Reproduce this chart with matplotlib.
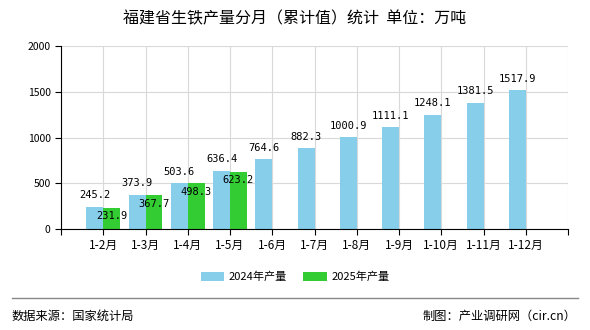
import numpy as np
import matplotlib
matplotlib.use("Agg")
from matplotlib import pyplot as plt

plt.rcParams['font.family'] = ['Noto Sans CJK SC', 'DejaVu Sans']

月份 = ['1-2月', '1-3月', '1-4月', '1-5月', '1-6月', '1-7月', '1-8月', '1-9月', '1-10月', '1-11月', '1-12月']
产量2024 = [245.2, 373.9, 503.6, 636.4, 764.6, 882.3, 1000.9, 1111.1, 1248.1, 1381.5, 1517.9]
产量2025 = [231.9, 367.7, 498.3, 623.2]

fig = plt.figure(figsize=(5.9, 3.3), dpi=100)
ax = fig.add_axes([61/590, 1-229/330, 507/590, 183/330])

x = np.arange(len(月份))
w = 0.4
b1 = ax.bar(x - w/2, 产量2024, w, color='#87CEEB', label='2024年产量', zorder=2)
b2 = ax.bar(x[:len(产量2025)] + w/2, 产量2025, w, color='#33CC33', label='2025年产量', zorder=2)

for xi, v in zip(x, 产量2024):
    ax.text(xi - w/2, v + 70, f'{v:.1f}', ha='center', va='bottom', fontsize=7.5,
            family=['DejaVu Sans Mono'], zorder=3)
for xi, v in zip(x, 产量2025):
    ax.text(xi + w/2, v - 90, f'{v:.1f}', ha='center', va='center', fontsize=7.5,
            family=['DejaVu Sans Mono'], zorder=3)

ax.set_xlim(-1, 11)
ax.set_ylim(0, 2000)
ax.set_yticks([0, 500, 1000, 1500, 2000])
ax.set_xticks(np.arange(-1, 12))
ax.set_xticklabels([''] + 月份 + [''], fontsize=8.5)
ax.tick_params(axis='y', labelsize=7.5, length=4, width=0.8)
ax.tick_params(axis='x', length=4, width=0.8, pad=3)
ax.grid(True, axis='both', color='#d9d9d9', lw=0.8, zorder=0)
for s in ['top', 'right']:
    ax.spines[s].set_visible(False)

fig.text(0.5, 1-19/330, '福建省生铁产量分月（累计值）统计  单位：万吨', ha='center', va='center', fontsize=11.5)

fig.legend(handles=[b1, b2], loc='center', bbox_to_anchor=(0.5, 1-277/330), ncol=2,
           frameon=False, fontsize=8, handlelength=2.1, handleheight=0.9,
           handletextpad=0.4, columnspacing=1.5)

fig.add_artist(plt.Line2D([12/590, 578/590], [1-298/330, 1-298/330], color='#888888', lw=1))
fig.text(12/590, 1-316/330, '数据来源：国家统计局', ha='left', va='center', fontsize=8.8)
fig.text(576/590, 1-316/330, '制图：产业调研网（cir.cn）', ha='right', va='center', fontsize=8.8)

fig.savefig('out.png', dpi=100)
